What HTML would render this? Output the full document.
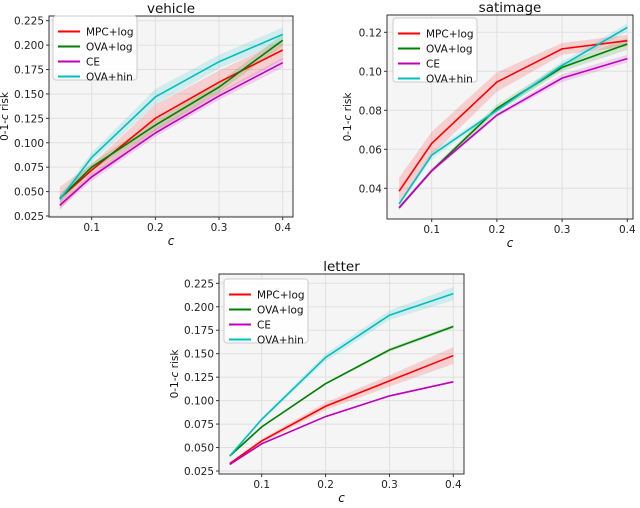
<!DOCTYPE html>
<html><head><meta charset="utf-8"><style>
body{margin:0;background:#fff;width:640px;height:503px;overflow:hidden}
svg{font-family:"DejaVu Sans","Liberation Sans",sans-serif}
</style></head><body>
<svg id="s" width="640" height="503"></svg>
<script>
const xs=[0.05,0.1,0.2,0.3,0.4];
const xTicks=[0.1,0.2,0.3,0.4];
const seriesNames=["MPC+log","OVA+log","CE","OVA+hin"];
const colors=["#ff0000","#008000","#bf00bf","#00bfbf"];
const vehMPC=[0.043,0.072,0.125,0.162,0.195];
const vehOVA=[0.043,0.075,0.118,0.157,0.205];
const vehCE=[0.036,0.065,0.110,0.148,0.182];
const vehHIN=[0.042,0.085,0.147,0.183,0.211];
const vehStd=[[0.012,0.006,0.014,0.012,0.010],[0.004,0.004,0.005,0.005,0.006],[0.003,0.004,0.004,0.004,0.005],[0.004,0.005,0.008,0.007,0.007]];
const vehTicks=[0.025,0.05,0.075,0.1,0.125,0.15,0.175,0.2,0.225];
const satMPC=[0.0385,0.063,0.0945,0.1115,0.1157];
const satOVA=[0.030,0.049,0.081,0.102,0.114];
const satCE=[0.030,0.049,0.0775,0.0965,0.1065];
const satHIN=[0.032,0.057,0.080,0.103,0.1225];
const satStd=[[0.007,0.006,0.005,0.003,0.003],[0.001,0.001,0.002,0.002,0.003],[0.001,0.001,0.001,0.002,0.002],[0.001,0.002,0.001,0.002,0.002]];
const satTicks=[0.04,0.06,0.08,0.10,0.12];
const letMPC=[0.033,0.057,0.094,0.121,0.148];
const letOVA=[0.041,0.072,0.118,0.154,0.179];
const letCE=[0.032,0.054,0.083,0.105,0.120];
const letHIN=[0.041,0.080,0.146,0.191,0.214];
const letStd=[[0.001,0.002,0.004,0.006,0.009],[0.001,0.001,0.001,0.002,0.002],[0.001,0.001,0.001,0.001,0.001],[0.001,0.002,0.004,0.005,0.007]];
const letTicks=[0.025,0.05,0.075,0.1,0.125,0.15,0.175,0.2,0.225];

const NS="http://www.w3.org/2000/svg";
const svg=document.getElementById('s');
function mk(tag,attrs,parent,txt){const e=document.createElementNS(NS,tag);for(const k in attrs)e.setAttribute(k,attrs[k]);if(txt!==undefined)e.textContent=txt;(parent||svg).appendChild(e);return e;}

function panel(cfg){
  const g=mk('g',{});
  
  
  const {L,R,T,B}=cfg;
  const xmap=v=>cfg.x1p+(v-0.1)/(0.3)*(cfg.x4p-cfg.x1p);
  const ymap=v=>cfg.ylo_p+(v-cfg.ylo)/(cfg.yhi-cfg.ylo)*(cfg.yhi_p-cfg.ylo_p);
  const bg=mk('rect',{x:L,y:T,width:R-L,height:B-T,fill:'#f5f5f5'},g);
  
  
  xTicks.forEach(t=>{const x=xmap(t);mk('line',{x1:x,x2:x,y1:T,y2:B,stroke:'#e0e0e0','stroke-width':1},g);
    mk('line',{x1:x,x2:x,y1:B,y2:B+3,stroke:'#333'},g);
    const tx=mk('text',{x:x,y:B+14,'font-size':10.5,'text-anchor':'middle',fill:'#222'},g,t.toFixed(1));
    
    });
  cfg.ticks.forEach(t=>{const y=ymap(t);mk('line',{x1:L,x2:R,y1:y,y2:y,stroke:'#e0e0e0','stroke-width':1},g);
    mk('line',{x1:L-3,x2:L,y1:y,y2:y,stroke:'#333'},g);
    const tx=mk('text',{x:L-5,y:y+4,'font-size':10.5,'text-anchor':'end',fill:'#222'},g,t.toFixed(cfg.dec));
    
    });
  cfg.series.forEach((s,i)=>{
    const up=xs.map((x,j)=>xmap(x)+','+ymap(s[j]+cfg.std[i][j]));
    const dn=xs.map((x,j)=>xmap(x)+','+ymap(s[j]-cfg.std[i][j])).reverse();
    const band=mk('polygon',{points:up.concat(dn).join(' '),fill:colors[i],'fill-opacity':0.15},g);
    
    
  });
  cfg.series.forEach((s,i)=>{
    const ln=mk('polyline',{points:xs.map((x,j)=>xmap(x)+','+ymap(s[j])).join(' '),fill:'none',stroke:colors[i],'stroke-width':1.6},g);
    
    
  });
  mk('rect',{x:L,y:T,width:R-L,height:B-T,fill:'none',stroke:'#333','stroke-width':1},g);
  const tt=mk('text',{x:(L+R)/2,y:T-3,'font-size':13.5,'text-anchor':'middle',fill:'#111'},g,cfg.name);
  
  
  const xl=mk('text',{x:(L+R)/2,y:B+28,'font-size':12,'font-style':'italic','text-anchor':'middle',fill:'#111'},g,'c');
  
  
  const yl=mk('text',{x:0,y:0,'font-size':10.5,'text-anchor':'middle',fill:'#111',transform:`translate(${cfg.ylx},${(T+B)/2}) rotate(-90)`},g);
  
  
  mk('tspan',{},yl,'0-1-');mk('tspan',{'font-style':'italic'},yl,'c');mk('tspan',{},yl,' risk');
  const lg=mk('g',{},g);
  
  
  mk('rect',{x:cfg.lx,y:cfg.ly,width:84,height:64,rx:3,fill:'#fff','fill-opacity':0.85,stroke:'#ccc'},lg);
  seriesNames.forEach((n,i)=>{const y=cfg.ly+15.5+i*15;
    mk('line',{x1:cfg.lx+5,x2:cfg.lx+27,y1:y,y2:y,stroke:colors[i],'stroke-width':2},lg);
    const t=mk('text',{x:cfg.lx+33,y:y+4,'font-size':10.5,fill:'#111'},lg,n);
    
    });
}
panel({name:'vehicle',L:49,R:293,T:16,B:217,x1p:91.7,x4p:282.7,ylo:0.025,yhi:0.225,ylo_p:216,yhi_p:20.7,ticks:vehTicks,dec:3,series:[vehMPC,vehOVA,vehCE,vehHIN],std:vehStd,ylx:8,lx:53,ly:16});
panel({name:'satimage',L:387,R:633,T:15,B:219,x1p:431.7,x4p:627.3,ylo:0.04,yhi:0.12,ylo_p:188.3,yhi_p:32.3,ticks:satTicks,dec:2,series:[satMPC,satOVA,satCE,satHIN],std:satStd,ylx:351,lx:393,ly:18});
panel({name:'letter',L:219,R:464,T:274,B:474,x1p:261.7,x4p:453.3,ylo:0.025,yhi:0.225,ylo_p:471,yhi_p:283.3,ticks:letTicks,dec:3,series:[letMPC,letOVA,letCE,letHIN],std:letStd,ylx:178,lx:224,ly:279});
</script>
</body></html>
